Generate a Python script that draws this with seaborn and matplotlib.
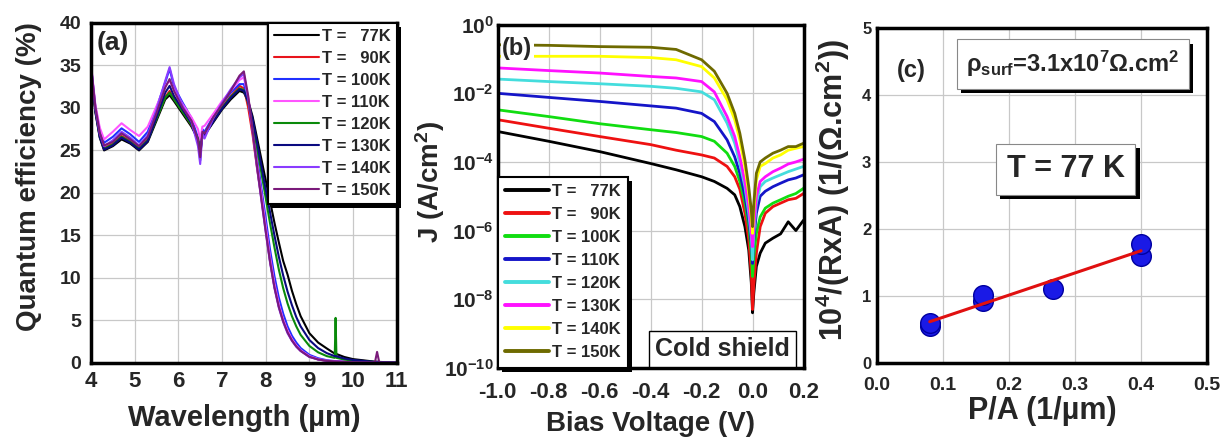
import numpy as np
import pandas as pd
import seaborn as sns
import matplotlib
matplotlib.use("Agg")
import matplotlib.pyplot as plt
from matplotlib import patheffects
from matplotlib.ticker import FormatStrFormatter, LogFormatterSciNotation, NullLocator

# ---------------- data ----------------
temps = ["77K", "90K", "100K", "110K", "120K", "130K", "140K", "150K"]
legend_labels = ["T =   77K", "T =   90K", "T = 100K", "T = 110K",
                 "T = 120K", "T = 130K", "T = 140K", "T = 150K"]

# (a) quantum efficiency spectra
wavelength = [4.0, 4.1, 4.2, 4.3, 4.5, 4.7, 4.9, 5.1, 5.3, 5.5, 5.7, 5.8, 5.9, 6.1, 6.3, 6.45,
              6.5, 6.55, 6.6, 6.8, 7.0, 7.2, 7.4, 7.5, 7.6, 7.7, 7.8, 7.9, 8.0, 8.1, 8.2, 8.3,
              8.4, 8.5, 8.6, 8.7, 8.8, 9.0, 9.2, 9.4, 9.58, 9.6, 9.62, 9.8, 10.0, 10.5, 10.55,
              10.6, 11.0]
qe_77k = [34.5, 29.5, 26.5, 25.0, 25.5, 26.3, 25.8, 25.0, 26.0, 28.5, 31.0, 31.5, 30.8, 29.3, 27.8, 26.3,
          25.2, 26.5, 26.8, 28.3, 29.8, 31.0, 32.0, 31.8, 30.8, 29.0, 26.5, 24.0, 21.5, 19.0, 16.5, 14.2,
          12.0, 10.4, 8.5, 6.9, 5.5, 3.5, 2.4, 1.7, 1.1, 1.1, 1.05, 0.7, 0.45, 0.15, 0.15,
          0.12, 0.05]
qe_90k = [34.8, 29.8, 26.8, 25.3, 25.8, 26.7, 26.1, 25.3, 26.3, 28.8, 31.3, 32.0, 31.1, 29.6, 28.0, 26.5,
          24.8, 26.8, 27.0, 28.6, 30.1, 31.4, 32.6, 32.3, 30.0, 26.8, 23.0, 19.5, 15.8, 12.0, 9.0, 6.7,
          5.0, 3.7, 2.7, 2.0, 1.45, 0.75, 0.42, 0.25, 0.18, 0.18, 0.17, 0.12, 0.08, 0.04, 0.04,
          0.03, 0.02]
qe_100k = [35.0, 30.2, 27.4, 25.9, 26.6, 27.6, 26.9, 26.0, 27.2, 30.0, 33.0, 34.6, 32.5, 30.6, 28.8, 26.5,
           23.8, 27.5, 27.2, 29.0, 30.5, 31.8, 32.8, 32.8, 30.8, 27.8, 24.2, 20.6, 17.0, 13.3, 10.2, 7.7,
           5.8, 4.3, 3.2, 2.4, 1.75, 0.95, 0.55, 0.32, 0.22, 0.22, 0.21, 0.15, 0.1, 0.05, 0.05,
           0.04, 0.02]
qe_110k = [35.2, 30.4, 27.7, 26.3, 27.2, 28.2, 27.4, 26.7, 27.8, 30.2, 32.6, 33.2, 32.2, 30.4, 28.9, 27.5,
           26.2, 27.8, 27.9, 29.3, 30.8, 32.0, 33.3, 33.6, 31.2, 27.6, 23.6, 19.9, 16.1, 12.4, 9.3, 6.9,
           5.1, 3.8, 2.8, 2.05, 1.5, 0.8, 0.45, 0.27, 0.19, 0.19, 0.18, 0.13, 0.09, 0.04, 0.04,
           0.03, 0.02]
qe_120k = [34.6, 29.7, 26.7, 25.2, 25.7, 26.6, 26.0, 25.2, 26.2, 28.7, 31.2, 31.8, 31.0, 29.5, 28.0, 26.4,
           25.0, 26.7, 26.9, 28.5, 30.0, 31.3, 32.3, 32.1, 30.6, 28.3, 25.4, 22.4, 19.4, 16.4, 13.6, 11.0,
           8.8, 7.0, 5.5, 4.3, 3.3, 2.0, 1.25, 0.8, 0.6, 5.3, 0.6, 0.4, 0.27, 0.1, 0.1,
           0.08, 0.04]
qe_130k = [34.5, 29.6, 26.6, 25.1, 25.6, 26.5, 25.9, 25.1, 26.1, 28.9, 31.8, 32.6, 31.4, 29.8, 28.2, 26.0,
           24.5, 26.9, 26.8, 28.4, 29.9, 31.2, 32.2, 32.0, 30.7, 28.7, 26.0, 23.2, 20.4, 17.7, 15.0, 12.5,
           10.3, 8.4, 6.8, 5.4, 4.3, 2.7, 1.75, 1.15, 0.8, 0.8, 0.78, 0.52, 0.35, 0.12, 0.12,
           0.1, 0.04]
qe_140k = [35.0, 30.0, 27.0, 25.5, 26.2, 27.2, 26.5, 25.6, 26.8, 29.8, 33.2, 34.8, 32.8, 30.2, 28.4, 25.5,
           23.4, 27.0, 26.4, 28.8, 30.6, 32.2, 33.6, 34.0, 31.0, 27.2, 23.0, 19.2, 15.4, 11.8, 8.8, 6.5,
           4.8, 3.5, 2.6, 1.9, 1.4, 0.7, 0.4, 0.24, 0.17, 0.17, 0.16, 0.11, 0.07, 0.04, 0.04,
           0.03, 0.02]
qe_150k = [34.9, 30.1, 27.1, 25.6, 26.0, 27.0, 26.3, 25.5, 26.6, 29.4, 32.4, 33.4, 32.0, 30.0, 28.5, 26.2,
           24.2, 27.2, 27.0, 28.9, 30.4, 32.0, 33.8, 34.3, 31.4, 27.4, 23.2, 19.3, 15.5, 11.9, 8.9, 6.6,
           4.9, 3.6, 2.65, 1.95, 1.42, 0.72, 0.41, 0.25, 0.18, 0.18, 0.17, 0.12, 0.08, 0.05, 1.3,
           0.05, 0.02]
qe_colors = ["#000000", "#e8141c", "#2030ff", "#ff55ff", "#0a8a0a", "#0a0a80", "#8a3cff", "#7a1a7a"]

# (b) dark current density vs bias
bias = [-1.0, -0.8, -0.6, -0.4, -0.3, -0.2, -0.15, -0.1, -0.07, -0.05, -0.03, -0.015, -0.005,
        0.0, 0.005, 0.015, 0.03, 0.05, 0.08, 0.11, 0.14, 0.17, 0.2]
j_77k = [7.7e-4, 4e-4, 2e-4, 9e-5, 5.9e-5, 3.7e-5, 2.7e-5, 1.7e-5, 1.1e-5, 5e-6, 1.3e-6, 2.7e-7, 3e-8,
         4e-9, 1.5e-8, 9e-8, 2.2e-7, 4.3e-7, 6e-7, 8e-7, 1.8e-6, 1.0e-6, 2e-6]
j_90k = [1.7e-3, 9.6e-4, 5.5e-4, 3.2e-4, 2.2e-4, 1.6e-4, 1.3e-4, 7.4e-5, 3.7e-5, 1.6e-5, 3.2e-6, 5.3e-7, 5.6e-8,
         5e-9, 2.5e-8, 2.2e-7, 1.3e-6, 3.2e-6, 5e-6, 6.3e-6, 7.9e-6, 8.7e-6, 1.2e-5]
j_100k = [3.3e-3, 2.1e-3, 1.3e-3, 8.7e-4, 7.2e-4, 5.5e-4, 4e-4, 1.8e-4, 7.4e-5, 2.7e-5, 6.3e-6, 1.3e-6, 2.2e-7,
          4.6e-8, 1.7e-7, 8.3e-7, 2.5e-6, 4.5e-6, 6.3e-6, 7.9e-6, 1e-5, 1.2e-5, 1.7e-5]
j_110k = [1e-2, 7.6e-3, 5.8e-3, 4.3e-3, 3.7e-3, 2.6e-3, 1.5e-3, 4.4e-4, 1.4e-4, 4.7e-5, 1e-5, 2e-6, 4.3e-7,
          1.1e-7, 5.4e-7, 3.2e-6, 1e-5, 1.4e-5, 1.9e-5, 2.4e-5, 3e-5, 3.4e-5, 4.2e-5]
j_120k = [2.6e-2, 2.2e-2, 1.9e-2, 1.6e-2, 1.4e-2, 1.1e-2, 6.5e-3, 1.35e-3, 3.5e-4, 9e-5, 1.9e-5, 3.2e-6, 6.6e-7,
          1.4e-7, 8.3e-7, 6.3e-6, 1.9e-5, 2.7e-5, 3.4e-5, 4.2e-5, 5.2e-5, 6.2e-5, 7.4e-5]
j_130k = [5.5e-2, 4.6e-2, 3.9e-2, 3.1e-2, 2.8e-2, 2.2e-2, 1.1e-2, 2.1e-3, 5.5e-4, 1.4e-4, 2.7e-5, 5e-6, 1e-6,
          3.4e-7, 1.3e-6, 1e-5, 2.7e-5, 3.7e-5, 5.2e-5, 6.6e-5, 8.7e-5, 1e-4, 1.2e-4]
j_140k = [0.12, 0.12, 0.12, 0.11, 0.095, 0.06, 0.028, 6.5e-3, 1.7e-3, 4.4e-4, 7.4e-5, 1.2e-5, 2.5e-6,
          8.3e-7, 4e-6, 3e-5, 7.4e-5, 9e-5, 1.3e-4, 1.6e-4, 2.2e-4, 2.5e-4, 2.8e-4]
j_150k = [0.26, 0.25, 0.23, 0.22, 0.19, 0.095, 0.044, 1e-2, 2.6e-3, 6.9e-4, 1.15e-4, 1.9e-5, 4e-6,
          1.3e-6, 6.3e-6, 4.7e-5, 1e-4, 1.3e-4, 1.8e-4, 2.2e-4, 2.8e-4, 2.8e-4, 3.5e-4]
j_colors = ["#000000", "#ee1111", "#11dd11", "#1515c8", "#44dddd", "#ff11ff", "#ffff00", "#6e6a00"]

# (c) 1/(RxA) vs perimeter/area
pa = [0.08, 0.08, 0.16, 0.16, 0.267, 0.4, 0.4]
rxa = [0.55, 0.6, 0.92, 1.02, 1.1, 1.6, 1.78]

# ---------------- style ----------------
sns.set_style("whitegrid")
plt.rcParams["font.family"] = ["Liberation Sans", "DejaVu Sans"]
plt.rcParams["font.weight"] = "bold"
plt.rcParams["axes.unicode_minus"] = False
plt.rcParams["mathtext.fontset"] = "custom"
plt.rcParams["mathtext.rm"] = "Liberation Sans:bold"
plt.rcParams["mathtext.it"] = "Liberation Sans:bold:italic"
plt.rcParams["mathtext.bf"] = "Liberation Sans:bold"


def add_shadow(patch, off=3):
    patch.set_path_effects([
        patheffects.SimplePatchShadow(offset=(off, -off), shadow_rgbFace="k", alpha=1.0),
        patheffects.Normal()])


def style_axes(ax):
    for sp in ax.spines.values():
        sp.set_linewidth(2.5)
        sp.set_color("k")
    ax.grid(True, color="#c8c8c8", lw=0.9)
    ax.set_axisbelow(True)
    ax.tick_params(length=0)


fig = plt.figure(figsize=(12.23, 4.41), dpi=100)
ax_a = fig.add_axes([0.0744, 0.177, 0.250, 0.771])
ax_b = fig.add_axes([0.407, 0.166, 0.250, 0.778])
ax_c = fig.add_axes([0.717, 0.177, 0.270, 0.760])

# ---------------- (a) ----------------
qe_series = [qe_77k, qe_90k, qe_100k, qe_110k, qe_120k, qe_130k, qe_140k, qe_150k]
qe_df = pd.DataFrame({
    "wl": wavelength * len(temps),
    "qe": sum(qe_series, []),
    "T": np.repeat(temps, len(wavelength)),
})
sns.lineplot(data=qe_df, x="wl", y="qe", hue="T", hue_order=temps,
             palette=dict(zip(temps, qe_colors)), estimator=None, lw=1.5,
             legend=False, ax=ax_a)
style_axes(ax_a)
ax_a.set_xlim(4, 11)
ax_a.set_ylim(0, 40)
ax_a.set_xticks(range(4, 12))
ax_a.set_yticks(range(0, 41, 5))
ax_a.tick_params(axis="x", labelsize=16, pad=6)
ax_a.tick_params(axis="y", labelsize=14, pad=7)
ax_a.set_xlabel("Wavelength (µm)", fontsize=21, fontweight="bold")
ax_a.set_ylabel("Quantum efficiency (%)", fontsize=20, fontweight="bold")
ax_a.xaxis.set_label_coords(0.5, -0.12)
ax_a.yaxis.set_label_coords(-0.16, 0.547)
ax_a.text(0.02, 0.975, "(a)", transform=ax_a.transAxes, fontsize=19,
          fontweight="bold", va="top", ha="left")
leg_a = ax_a.legend(ax_a.get_lines()[:len(temps)], legend_labels, loc="upper right",
                    bbox_to_anchor=(1, 1), borderaxespad=0, fontsize=12, frameon=True,
                    fancybox=False, edgecolor="k", framealpha=1, handlelength=2.7,
                    handletextpad=0.2, labelspacing=0.42, borderpad=0.35)
leg_a.get_frame().set_linewidth(1.5)
add_shadow(leg_a.get_frame())

# ---------------- (b) ----------------
j_series = [j_77k, j_90k, j_100k, j_110k, j_120k, j_130k, j_140k, j_150k]
j_df = pd.DataFrame({
    "V": bias * len(temps),
    "J": sum(j_series, []),
    "T": np.repeat(temps, len(bias)),
})
ax_b.set_yscale("log")
sns.lineplot(data=j_df, x="V", y="J", hue="T", hue_order=temps,
             palette=dict(zip(temps, j_colors)), estimator=None, lw=2.0,
             legend=False, ax=ax_b)
style_axes(ax_b)
ax_b.set_xlim(-1.0, 0.2)
ax_b.set_ylim(1e-10, 1)
ax_b.set_xticks([-1.0, -0.8, -0.6, -0.4, -0.2, 0.0, 0.2])
ax_b.xaxis.set_major_formatter(FormatStrFormatter("%.1f"))
ax_b.set_yticks([1e-10, 1e-8, 1e-6, 1e-4, 1e-2, 1e0])
ax_b.yaxis.set_major_formatter(LogFormatterSciNotation())
ax_b.yaxis.set_minor_locator(NullLocator())
ax_b.tick_params(axis="x", labelsize=16, pad=10)
ax_b.tick_params(axis="y", labelsize=15, pad=3)
ax_b.set_xlabel("Bias Voltage (V)", fontsize=20, fontweight="bold")
ax_b.set_ylabel("J (A/cm$^2$)", fontsize=20, fontweight="bold")
ax_b.xaxis.set_label_coords(0.5, -0.125)
ax_b.yaxis.set_label_coords(-0.165, 0.54)
ax_b.text(0.015, 0.965, "(b)", transform=ax_b.transAxes, fontsize=17,
          fontweight="bold", va="top", ha="left",
          bbox=dict(facecolor="white", edgecolor="none", pad=1))
leg_b = ax_b.legend(ax_b.get_lines()[:len(temps)], legend_labels, loc="lower left",
                    bbox_to_anchor=(0, 0), borderaxespad=0, fontsize=12, frameon=True,
                    fancybox=False, edgecolor="k", framealpha=1, handlelength=2.6,
                    handletextpad=0.2, labelspacing=0.48, borderpad=0.45)
leg_b.get_frame().set_linewidth(1.5)
for h in leg_b.get_lines():
    h.set_linewidth(2.8)
add_shadow(leg_b.get_frame())
cold = ax_b.text(0.955, 0.02, "Cold shield", transform=ax_b.transAxes, fontsize=18,
                 fontweight="bold", ha="right", va="bottom",
                 bbox=dict(boxstyle="square,pad=0.25", facecolor="white", edgecolor="k", lw=1))

# ---------------- (c) ----------------
sns.regplot(x=pa, y=rxa, ci=None, ax=ax_c,
            scatter_kws=dict(s=200, color="#1a1ae6", edgecolor="#0000a0", linewidths=1, alpha=1, zorder=3),
            line_kws=dict(color="#e01010", lw=2.2, zorder=4))
style_axes(ax_c)
ax_c.set_xlim(0, 0.5)
ax_c.set_ylim(0, 5)
ax_c.set_xticks([0.0, 0.1, 0.2, 0.3, 0.4, 0.5])
ax_c.xaxis.set_major_formatter(FormatStrFormatter("%.1f"))
ax_c.set_yticks([0, 1, 2, 3, 4, 5])
ax_c.tick_params(axis="x", labelsize=14, pad=10)
ax_c.tick_params(axis="y", labelsize=12, pad=4)
ax_c.set_xlabel("P/A (1/µm)", fontsize=22, fontweight="bold")
ax_c.set_ylabel("10$^4$/(RxA) (1/(Ω.cm$^2$))", fontsize=22, fontweight="bold")
ax_c.xaxis.set_label_coords(0.5, -0.1)
ax_c.yaxis.set_label_coords(-0.075, 0.516)
ax_c.text(0.052, 4.37, "(c)", fontsize=17, fontweight="bold", ha="center", va="center")
rho = ax_c.text(0.297, 4.46, "ρ$_{\\mathrm{surf}}$=3.1x10$^7$Ω.cm$^2$", fontsize=17,
                fontweight="bold", ha="center", va="center",
                bbox=dict(boxstyle="square,pad=0.4", facecolor="white", edgecolor="#888888", lw=0.8))
tk = ax_c.text(0.286, 2.89, "T = 77 K", fontsize=22, fontweight="bold", ha="center", va="center",
               bbox=dict(boxstyle="square,pad=0.35", facecolor="white", edgecolor="#888888", lw=0.8))
fig.canvas.draw()
add_shadow(rho.get_bbox_patch())
add_shadow(tk.get_bbox_patch())

fig.savefig("out.png", dpi=100)
